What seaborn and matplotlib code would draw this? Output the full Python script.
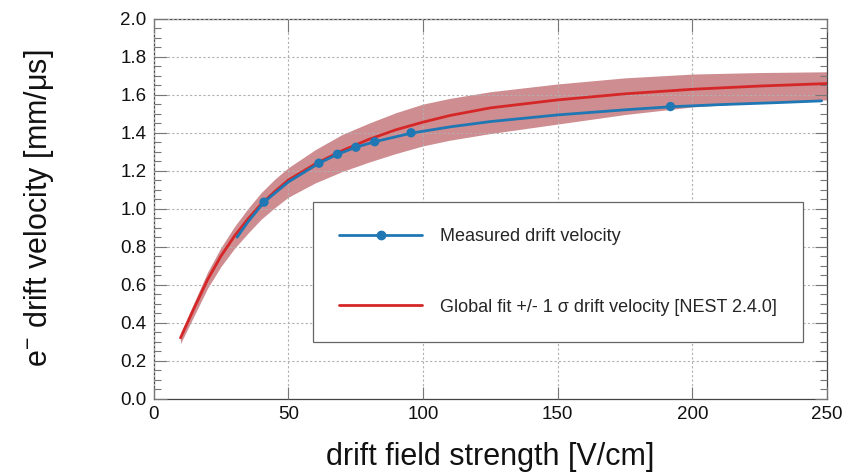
import numpy as np
import pandas as pd
import matplotlib
matplotlib.use("Agg")
import matplotlib.pyplot as plt
from matplotlib.lines import Line2D
from matplotlib.ticker import MultipleLocator
import seaborn as sns

# ---- data ----
fit_field = [10, 15, 20, 25, 30, 35, 40, 45, 50, 60, 70, 80, 90, 100, 110, 125, 150, 175, 200, 225, 250]
fit_velocity = [0.32, 0.475, 0.625, 0.75, 0.855, 0.945, 1.025, 1.09, 1.15, 1.235, 1.305, 1.365, 1.415,
                1.455, 1.49, 1.53, 1.572, 1.604, 1.628, 1.645, 1.658]
fit_upper = [0.345, 0.505, 0.665, 0.795, 0.905, 1.0, 1.085, 1.155, 1.215, 1.31, 1.39, 1.45, 1.505,
             1.55, 1.58, 1.615, 1.656, 1.688, 1.708, 1.716, 1.72]
fit_lower = [0.29, 0.435, 0.58, 0.695, 0.79, 0.87, 0.945, 1.005, 1.06, 1.135, 1.195, 1.245, 1.29,
             1.33, 1.36, 1.395, 1.445, 1.495, 1.535, 1.558, 1.572]

meas_curve_field = [31, 35, 41, 50, 61.4, 68.3, 75.1, 82.1, 95.6, 110, 125, 150, 175, 192, 210, 232, 248]
meas_curve_velocity = [0.85, 0.93, 1.034, 1.14, 1.239, 1.286, 1.323, 1.352, 1.397, 1.43, 1.458, 1.493,
                       1.520, 1.536, 1.547, 1.558, 1.567]

meas_field = [41, 61.4, 68.3, 75.1, 82.1, 95.6, 191.9]
meas_velocity = [1.034, 1.239, 1.286, 1.323, 1.352, 1.399, 1.537]

x_ticks = [0, 50, 100, 150, 200, 250]
y_ticks = [0.0, 0.2, 0.4, 0.6, 0.8, 1.0, 1.2, 1.4, 1.6, 1.8, 2.0]

label_meas = "Measured drift velocity"
label_fit = "Global fit +/- 1 σ drift velocity [NEST 2.4.0]"

# ---- style ----
sns.set_theme(style="ticks")
plt.rcParams["font.family"] = ["Liberation Sans", "DejaVu Sans"]
plt.rcParams["mathtext.fontset"] = "custom"
plt.rcParams["mathtext.rm"] = "Liberation Sans"
plt.rcParams["mathtext.it"] = "Liberation Sans"

BLUE = "#1f77b4"
RED = "#d62728"

fig = plt.figure(figsize=(8.57, 4.76), dpi=100)
ax = fig.add_axes([0.1792, 0.1624, 0.9650 - 0.1792, 0.961 - 0.1624])

fit_df = pd.DataFrame({"E": fit_field, "v": fit_velocity, "lo": fit_lower, "hi": fit_upper})
mc_df = pd.DataFrame({"E": meas_curve_field, "v": meas_curve_velocity})
m_df = pd.DataFrame({"E": meas_field, "v": meas_velocity})

ax.fill_between(fit_df["E"], fit_df["lo"], fit_df["hi"], color="#b0474d", alpha=0.62,
                linewidth=0, zorder=2)
sns.lineplot(data=fit_df, x="E", y="v", ax=ax, color=RED, linewidth=2.0, zorder=3,
             estimator=None, sort=False)
sns.lineplot(data=mc_df, x="E", y="v", ax=ax, color=BLUE, linewidth=2.0, zorder=4,
             estimator=None, sort=False)
sns.scatterplot(data=m_df, x="E", y="v", ax=ax, color=BLUE, s=45, edgecolor="none", zorder=5)

ax.set_xlim(0, 250)
ax.set_ylim(0, 2.0)
ax.set_xticks(x_ticks)
ax.set_xticklabels([str(t) for t in x_ticks])
ax.set_yticks(y_ticks)
ax.set_yticklabels([f"{t:.1f}" for t in y_ticks])
ax.yaxis.set_minor_locator(MultipleLocator(0.05))

ax.grid(True, which="major", color="#b0b0b0", linestyle=(0, (2, 2)), linewidth=0.8, zorder=1)
ax.set_axisbelow(False)
for line in ax.get_xgridlines() + ax.get_ygridlines():
    line.set_zorder(2.5)

ax.tick_params(axis="both", which="both", direction="in", top=True, right=True,
               labelsize=13.5, labelcolor="#111111")
ax.tick_params(axis="both", which="major", length=9, width=0.8, color="#777777", pad=5)
ax.tick_params(axis="y", which="minor", length=5, width=0.8, color="#777777")
for sp in ax.spines.values():
    sp.set_color("#444444")
    sp.set_linewidth(0.9)

ax.set_xlabel("drift field strength [V/cm]", fontsize=22, labelpad=14, color="#111111")
ax.set_ylabel(r"e$^{-}$ drift velocity [mm/μs]", fontsize=22, labelpad=46, color="#111111")

handles = [Line2D([0], [0], color=BLUE, linewidth=2.0, marker="o", markersize=6),
           Line2D([0], [0], color=RED, linewidth=2.0)]
leg = ax.legend(handles, [label_meas, label_fit], loc="upper left",
                bbox_to_anchor=(0.237, 0.152, 0.727, 0.365), mode="expand",
                borderaxespad=0.0,
                fontsize=13, frameon=True, fancybox=False, framealpha=1,
                edgecolor="#666666", borderpad=1.45, labelspacing=2.95,
                handlelength=4.6, handletextpad=0.95, numpoints=1)
leg.get_frame().set_linewidth(0.9)
leg.set_zorder(6)

fig.savefig("out.png", dpi=100)
